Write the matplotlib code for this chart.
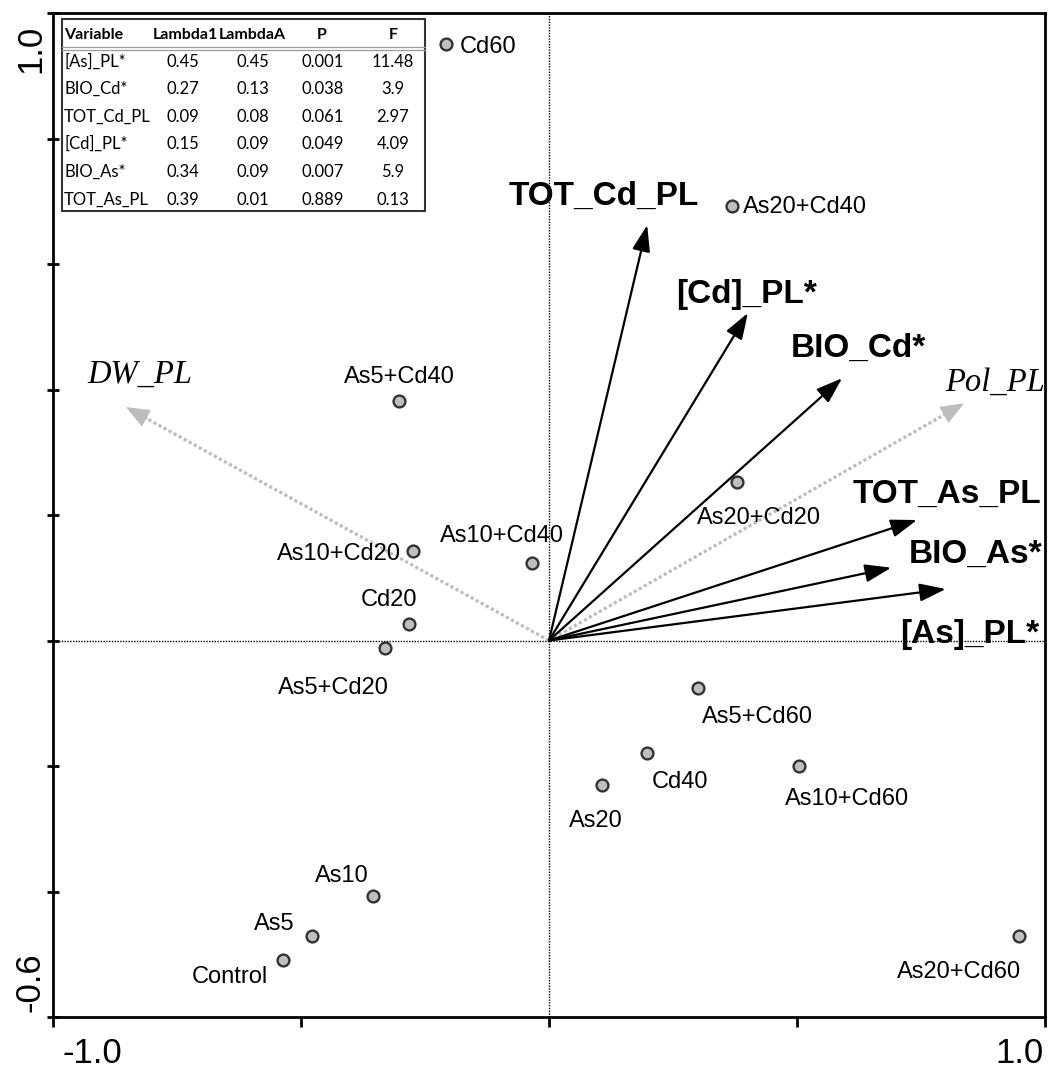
import matplotlib
matplotlib.use('Agg')
import matplotlib.pyplot as plt
from matplotlib.patches import Rectangle

# ---------------- data ----------------
samples = ['Cd60', 'As20+Cd40', 'As5+Cd40', 'As20+Cd20', 'As10+Cd20', 'As10+Cd40',
           'Cd20', 'As5+Cd20', 'As5+Cd60', 'Cd40', 'As20', 'As10+Cd60',
           'As10', 'As5', 'Control', 'As20+Cd60']
sample_x = [-0.208, 0.369, -0.302, 0.379, -0.274, -0.034,
            -0.282, -0.331, 0.300, 0.198, 0.107, 0.504,
            -0.355, -0.478, -0.536, 0.948]
sample_y = [0.951, 0.692, 0.382, 0.253, 0.143, 0.124,
            0.026, -0.012, -0.076, -0.179, -0.230, -0.200,
            -0.407, -0.471, -0.509, -0.471]

env_vars = ['TOT_Cd_PL', '[Cd]_PL*', 'BIO_Cd*', 'TOT_As_PL', 'BIO_As*', '[As]_PL*']
env_x = [0.198, 0.401, 0.591, 0.742, 0.690, 0.800]
env_y = [0.662, 0.522, 0.418, 0.192, 0.116, 0.082]

sup_vars = ['DW_PL', 'Pol_PL']
sup_x = [-0.853, 0.837]
sup_y = [0.372, 0.378]

table_cols = ['Variable', 'Lambda1', 'LambdaA', 'P', 'F']
table_vars = ['[As]_PL*', 'BIO_Cd*', 'TOT_Cd_PL', '[Cd]_PL*', 'BIO_As*', 'TOT_As_PL']
lambda1 = ['0.45', '0.27', '0.09', '0.15', '0.34', '0.39']
lambdaA = ['0.45', '0.13', '0.08', '0.09', '0.09', '0.01']
p_vals = ['0.001', '0.038', '0.061', '0.049', '0.007', '0.889']
f_vals = ['11.48', '3.9', '2.97', '4.09', '5.9', '0.13']

# ---------------- layout (pixel offsets) ----------------
sample_lbl = {  # (dx, dy, ha) in pixels, y up
    'Cd60': (14, -9, 'left'), 'As20+Cd40': (11, -7, 'left'),
    'As5+Cd40': (0, 18, 'center'), 'As20+Cd20': (22, -42, 'center'),
    'As10+Cd20': (-74, -9, 'center'), 'As10+Cd40': (-30, 21, 'center'),
    'Cd20': (-20, 18, 'center'), 'As5+Cd20': (-51, -46, 'center'),
    'As5+Cd60': (60, -35, 'center'), 'Cd40': (33, -35, 'center'),
    'As20': (-6, -42, 'center'), 'As10+Cd60': (48, -39, 'center'),
    'As10': (-31, 14, 'center'), 'As5': (-38, 6, 'center'),
    'Control': (-53, -23, 'center'), 'As20+Cd60': (-60, -42, 'center'),
}
env_lbl = {
    'TOT_Cd_PL': (-43, 20, 'center'), '[Cd]_PL*': (-1, 10, 'center'),
    'BIO_Cd*': (16, 21, 'center'), 'TOT_As_PL': (30, 17, 'center'),
    'BIO_As*': (84, 5, 'center'), '[As]_PL*': (24, -54, 'center'),
}
sup_lbl = {'DW_PL': (14, 24, 'center'), 'Pol_PL': (-19, 13, 'left')}

W, H = 1048, 1073
L, R, T, B = 53, 1045, 13, 1017

fig = plt.figure(figsize=(W / 100, H / 100), dpi=100)
ax = fig.add_axes([L / W, 1 - B / H, (R - L) / W, (B - T) / H])
ax.set_xlim(-1.0, 1.0)
ax.set_ylim(-0.6, 1.0)

for s in ax.spines.values():
    s.set_linewidth(2)
    s.set_color('black')

ax.set_xticks([-1.0, -0.5, 0.0, 0.5, 1.0])
ax.set_yticks([-0.6, -0.4, -0.2, 0.0, 0.2, 0.4, 0.6, 0.8, 1.0])
ax.tick_params(axis='x', direction='out', length=7, width=2,
               labelbottom=False)
ax.tick_params(axis='y', direction='inout', length=9, width=2,
               labelleft=False)

sans = 'Liberation Sans'
# tick labels
ax.annotate('-1.0', xy=(0, 0), xycoords='axes fraction', xytext=(9, -46),
            textcoords='offset pixels', ha='left', va='baseline',
            fontsize=25, family=sans, annotation_clip=False)
ax.annotate('1.0', xy=(1, 0), xycoords='axes fraction', xytext=(-1, -46),
            textcoords='offset pixels', ha='right', va='baseline',
            fontsize=25, family=sans, annotation_clip=False)
ax.annotate('1.0', xy=(0, 1), xycoords='axes fraction', xytext=(-6, -12),
            textcoords='offset pixels', ha='right', va='top', rotation=90,
            fontsize=25, family=sans, annotation_clip=False)
ax.annotate('-0.6', xy=(0, 0), xycoords='axes fraction', xytext=(-6, 5),
            textcoords='offset pixels', ha='right', va='bottom', rotation=90,
            fontsize=25, family=sans, annotation_clip=False)

# reference lines
ax.axhline(0, color='black', lw=1, ls=(0, (1, 1)), zorder=1)
ax.axvline(0, color='black', lw=1, ls=(0, (1, 1)), zorder=1)

# supplementary (gray dotted) arrows
gray = '#bdbdbd'
for name, x, y in zip(sup_vars, sup_x, sup_y):
    ax.plot([0, x * 0.96], [0, y * 0.96], color=gray, lw=2.3,
            ls=(0, (1, 0.8)), zorder=2, solid_capstyle='butt')
    ax.annotate('', xy=(x, y), xytext=(x * 0.95, y * 0.95),
                arrowprops=dict(arrowstyle='-|>,head_length=15,head_width=6',
                                mutation_scale=1, color=gray, lw=1,
                                shrinkA=0, shrinkB=0), zorder=2)
    dx, dy, ha = sup_lbl[name]
    ax.annotate(name, xy=(x, y), xytext=(dx, dy), textcoords='offset pixels',
                ha=ha, va='baseline', fontsize=23.5, family='Liberation Serif',
                style='italic', color='black', annotation_clip=False)

# environmental (black) arrows
for name, x, y in zip(env_vars, env_x, env_y):
    ax.annotate('', xy=(x, y), xytext=(0, 0),
                arrowprops=dict(arrowstyle='-|>,head_length=16,head_width=5.5',
                                mutation_scale=1, color='black', lw=1.6,
                                shrinkA=0, shrinkB=0), zorder=3)
    dx, dy, ha = env_lbl[name]
    ax.annotate(name, xy=(x, y), xytext=(dx, dy), textcoords='offset pixels',
                ha=ha, va='baseline', fontsize=24, family=sans,
                weight='bold', annotation_clip=False)

# sample points
ax.plot(sample_x, sample_y, 'o', ms=8.5, mfc='#bfbfbf', mec='#333333',
        mew=1.7, ls='none', zorder=4)
for name, x, y in zip(samples, sample_x, sample_y):
    dx, dy, ha = sample_lbl[name]
    ax.annotate(name, xy=(x, y), xytext=(dx, dy), textcoords='offset pixels',
                ha=ha, va='baseline', fontsize=17, family=sans,
                annotation_clip=False)

# ---------------- table ----------------
def px2ax(px, py):
    return ((px - L) / (R - L), (B - py) / (B - T))

x0, y0 = px2ax(62, 211)
x1, y1 = px2ax(425, 19)
ax.add_patch(Rectangle((x0, y0), x1 - x0, y1 - y0, transform=ax.transAxes,
                       facecolor='white', edgecolor='#333333', lw=1.5,
                       zorder=5))
for yy in (47, 49.5):
    ax.plot([x0, x1], [px2ax(0, yy)[1]] * 2, transform=ax.transAxes,
            color='#9a9a9a', lw=0.9, zorder=6)

tfont = 'Lato'
head_x = [64, 185, 252, 322, 393]
head_ha = ['left', 'center', 'center', 'center', 'center']
val_x = [64, 183, 253, 323, 393]
row_y = [35, 62, 89, 117, 144, 172, 200]
for c, hx, ha in zip(table_cols, head_x, head_ha):
    ax.text(*px2ax(hx, row_y[0]), c, transform=ax.transAxes, ha=ha,
            va='center', fontsize=11.5, family=tfont, weight='bold', zorder=7)
for i, row in enumerate(zip(table_vars, lambda1, lambdaA, p_vals, f_vals)):
    for j, v in enumerate(row):
        ax.text(*px2ax(val_x[j], row_y[i + 1]), v, transform=ax.transAxes,
                ha=head_ha[j], va='center', fontsize=12, family=tfont,
                zorder=7)

fig.savefig('out.png', dpi=100)
